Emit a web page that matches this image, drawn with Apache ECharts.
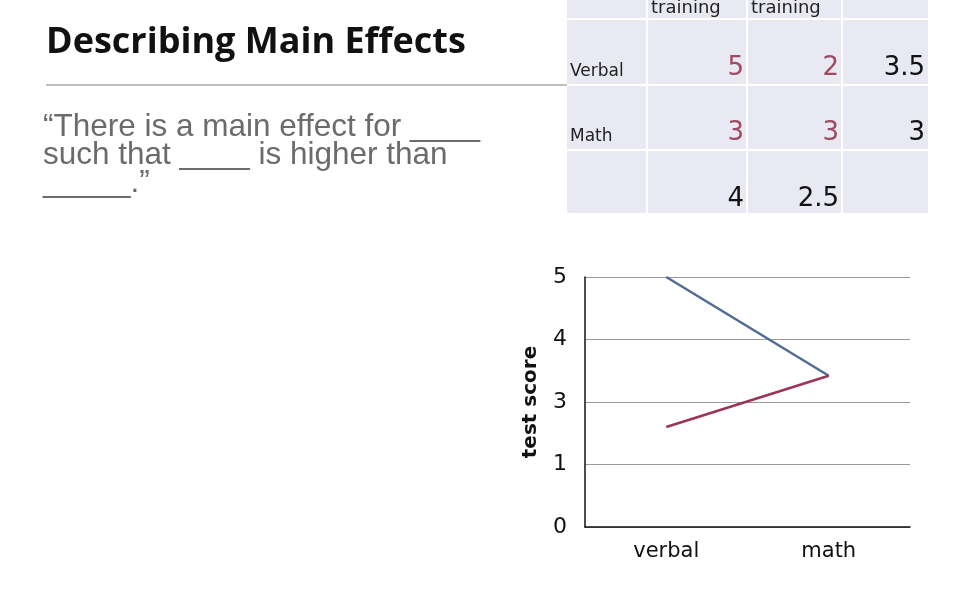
<!DOCTYPE html>
<html>
<head>
<meta charset="utf-8">
<style>
  html, body { margin: 0; padding: 0; background: #fff; }
  #main { width: 960px; height: 600px; }
</style>
<script src="https://cdn.jsdelivr.net/npm/echarts@6/dist/echarts.min.js"></script>
</head>
<body>
<div id="main"></div>
<script>
// chart data
const categories = ['verbal', 'math'];
const yTickLabels = ['0', '1', '3', '4', '5'];
// values in axis steps (one step per tick label)
const verbalTraining = [4, 2.42];
const mathTraining = [1.6, 2.42];

// table data
const colHeaders = ['training', 'training'];
const rowLabels = ['Verbal', 'Math'];
const cellValues = [['5', '2'], ['3', '3']];
const rowMeans = ['3.5', '3'];
const colMeans = ['4', '2.5'];

const chart = echarts.init(document.getElementById('main'));

// table layout
const colX = [567, 647, 747, 842, 928];
const rowY = [0, 19, 85, 150, 213];
const numFont = '26px "DejaVu Sans"';
const labelFont = '17px "DejaVu Sans"';

function buildTable() {
    const els = [];
    els.push({ type: 'rect', shape: { x: colX[0], y: 0, width: colX[4] - colX[0], height: rowY[4] }, style: { fill: '#e8e9f3' } });
    colX.slice(1, 4).forEach(x => {
        els.push({ type: 'rect', shape: { x: x - 1, y: 0, width: 2, height: rowY[4] }, style: { fill: '#ffffff' } });
    });
    rowY.slice(1, 4).forEach(y => {
        els.push({ type: 'rect', shape: { x: colX[0], y: y - 1, width: colX[4] - colX[0], height: 2 }, style: { fill: '#ffffff' } });
    });
    colHeaders.forEach((h, i) => {
        els.push({ type: 'text', x: colX[i + 1] + 4, y: 8, style: { text: h, font: '18px "DejaVu Sans"', fill: '#222', verticalAlign: 'middle' } });
    });
    rowLabels.forEach((r, i) => {
        const bottom = rowY[i + 2];
        els.push({ type: 'text', x: colX[0] + 3, y: bottom - 13, style: { text: r, font: labelFont, fill: '#222', verticalAlign: 'middle' } });
        cellValues[i].forEach((v, j) => {
            els.push({ type: 'text', x: colX[j + 2] - 3, y: bottom - 17, style: { text: v, font: numFont, fill: '#a04a62', align: 'right', verticalAlign: 'middle' } });
        });
        els.push({ type: 'text', x: colX[4] - 3, y: bottom - 17, style: { text: rowMeans[i], font: numFont, fill: '#111', align: 'right', verticalAlign: 'middle' } });
    });
    colMeans.forEach((v, j) => {
        els.push({ type: 'text', x: colX[j + 2] - 3, y: 199, style: { text: v, font: numFont, fill: '#111', align: 'right', verticalAlign: 'middle' } });
    });
    return els;
}

const option = {
    animation: false,
    backgroundColor: '#ffffff',
    grid: { left: 585, top: 277, width: 325, height: 250 },
    xAxis: {
        type: 'category',
        data: categories,
        boundaryGap: true,
        axisLine: { lineStyle: { color: '#111', width: 1.5 } },
        axisTick: { show: false },
        axisLabel: { color: '#111', fontSize: 21, fontFamily: 'DejaVu Sans', margin: 14 }
    },
    yAxis: {
        type: 'value',
        min: 0,
        max: 4,
        interval: 1,
        name: 'test score',
        nameLocation: 'middle',
        nameGap: 44,
        nameRotate: 90,
        nameTextStyle: { color: '#111', fontSize: 20, fontWeight: 'bold', fontFamily: 'DejaVu Sans' },
        axisLine: { show: true, lineStyle: { color: '#111', width: 1.5 } },
        axisTick: { show: false },
        axisLabel: { color: '#111', fontSize: 22, fontFamily: 'DejaVu Sans', margin: 18, formatter: v => yTickLabels[v] },
        splitLine: { lineStyle: { color: '#9a9a9a', width: 1 } }
    },
    series: [
        { type: 'line', data: verbalTraining, symbol: 'none', lineStyle: { color: '#506b96', width: 2.5 } },
        { type: 'line', data: mathTraining, symbol: 'none', lineStyle: { color: '#9b3558', width: 2.5 } }
    ],
    graphic: [
        { type: 'text', x: 46, y: 43, style: { text: 'Describing Main Effects', font: 'bold 36px "Open Sans"', fill: '#111', verticalAlign: 'middle' } },
        { type: 'line', shape: { x1: 46, y1: 85, x2: 568, y2: 85 }, style: { stroke: '#a8a8a8', lineWidth: 1.5 } },
        { type: 'text', x: 43, y: 113, style: { text: '\u201cThere is a main effect for ____\nsuch that ____ is higher than\n_____.\u201d', font: '31.5px "Liberation Sans"', lineHeight: 28, fill: '#6b6b6b' } },
        ...buildTable()
    ]
};

chart.setOption(option);
</script>
</body>
</html>
